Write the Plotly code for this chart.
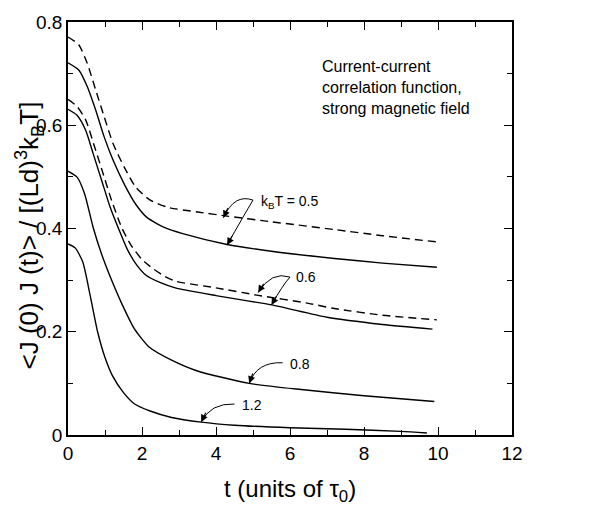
import math
import plotly.graph_objects as go

# ---- data ----
t_d05 = [0, 0.29, 0.52, 0.75, 0.98, 1.22, 1.52, 1.83, 2.2, 2.7, 3.5, 4.3, 5.5, 7.2, 8.5, 9.97]
c_d05 = [0.771, 0.756, 0.72, 0.668, 0.616, 0.564, 0.519, 0.48, 0.456, 0.441, 0.432, 0.424, 0.413, 0.398, 0.386, 0.374]

t_s05 = [0, 0.29, 0.52, 0.75, 0.98, 1.22, 1.52, 1.83, 2.14, 2.6, 3.1, 4.3, 5.5, 7.2, 8.5, 9.97]
c_s05 = [0.721, 0.707, 0.675, 0.629, 0.577, 0.532, 0.486, 0.447, 0.421, 0.402, 0.39, 0.369, 0.356, 0.342, 0.333, 0.325]

t_d06 = [0, 0.25, 0.48, 0.72, 0.95, 1.18, 1.45, 1.7, 2.0, 2.3, 2.6, 2.9, 4.0, 5.1, 6.5, 7.2, 8.5, 9.97]
c_d06 = [0.65, 0.636, 0.61, 0.558, 0.506, 0.454, 0.402, 0.368, 0.34, 0.322, 0.308, 0.298, 0.285, 0.271, 0.255, 0.245, 0.232, 0.223]

t_s06 = [0, 0.25, 0.48, 0.68, 0.91, 1.14, 1.37, 1.6, 1.85, 2.1, 2.5, 2.9, 4.0, 5.5, 7.0, 8.5, 9.85]
c_s06 = [0.631, 0.619, 0.59, 0.545, 0.493, 0.441, 0.399, 0.36, 0.33, 0.31, 0.295, 0.285, 0.27, 0.252, 0.228, 0.214, 0.205]

t_s08 = [0, 0.25, 0.45, 0.68, 0.9, 1.15, 1.45, 1.8, 2.2, 2.8, 3.5, 4.9, 6.3, 8.0, 9.9]
c_s08 = [0.511, 0.499, 0.467, 0.402, 0.352, 0.305, 0.255, 0.205, 0.17, 0.145, 0.124, 0.1, 0.088, 0.076, 0.065]

t_s12 = [0, 0.2, 0.4, 0.6, 0.8, 1.0, 1.2, 1.5, 1.8, 2.2, 2.8, 3.6, 4.5, 6.0, 7.5, 9.0, 9.7]
c_s12 = [0.37, 0.362, 0.335, 0.27, 0.2, 0.15, 0.115, 0.082, 0.06, 0.047, 0.034, 0.025, 0.019, 0.014, 0.011, 0.007, 0.004]

x_ticks = [0, 2, 4, 6, 8, 10, 12]
y_ticks = [0, 0.2, 0.4, 0.6, 0.8]
y_ticktext = ["0", "0.2", "0.4", "0.6", "0.8"]

# labels: text, x, y
label_text = ["k<sub>B</sub>T = 0.5", "0.6", "0.8", "1.2"]
label_x = [5.15, 6.1, 5.95, 4.65]
label_y = [0.452, 0.306, 0.138, 0.058]

# curved arrows: start, control, end
arr_x0 = [5.0, 5.0, 6.0, 6.0, 5.8, 4.5]
arr_y0 = [0.455, 0.455, 0.306, 0.306, 0.14, 0.06]
arr_cx = [4.5, 4.75, 5.5, 5.8, 5.1, 3.85]
arr_cy = [0.468, 0.425, 0.318, 0.29, 0.142, 0.062]
arr_x1 = [4.2, 4.3, 5.14, 5.5, 4.9, 3.6]
arr_y1 = [0.421, 0.368, 0.276, 0.252, 0.1, 0.025]

note_text = "Current-current<br>correlation function,<br>strong magnetic field"

# ---- layout geometry ----
W, H = 614, 508
ML, MR, MT, MB = 68, 102, 22, 73
XR = [0, 12]
YR = [0, 0.8]
px_per_x = (W - ML - MR) / (XR[1] - XR[0])
px_per_y = (H - MT - MB) / (YR[1] - YR[0])

# ---- figure ----
fig = go.Figure()
series = [
    (t_d05, c_d05, "dash"),
    (t_s05, c_s05, "solid"),
    (t_d06, c_d06, "dash"),
    (t_s06, c_s06, "solid"),
    (t_s08, c_s08, "solid"),
    (t_s12, c_s12, "solid"),
]
for tx, cy, ds in series:
    fig.add_trace(go.Scatter(
        x=tx, y=cy, mode="lines",
        line=dict(color="black", width=1.4, shape="spline", smoothing=0.6,
                  dash="8px,5px" if ds == "dash" else "solid"),
        showlegend=False, hoverinfo="skip"))

shapes = []
annotations = []
for i in range(len(arr_x0)):
    path = f"M {arr_x0[i]},{arr_y0[i]} Q {arr_cx[i]},{arr_cy[i]} {arr_x1[i]},{arr_y1[i]}"
    shapes.append(dict(type="path", path=path, xref="x", yref="y",
                       line=dict(color="black", width=1)))
    # arrowhead along the tangent at the end (pixel offsets)
    dx = (arr_cx[i] - arr_x1[i]) * px_per_x
    dy = -(arr_cy[i] - arr_y1[i]) * px_per_y
    n = math.hypot(dx, dy)
    L = 12
    annotations.append(dict(x=arr_x1[i], y=arr_y1[i], ax=dx / n * L, ay=dy / n * L,
                            xref="x", yref="y",
                            text="", showarrow=True, arrowhead=2,
                            arrowsize=1.3, arrowwidth=1.1, arrowcolor="black"))

for txt, lx, ly in zip(label_text, label_x, label_y):
    annotations.append(dict(x=lx, y=ly, xref="x", yref="y", text=txt,
                            showarrow=False, xanchor="left", yanchor="middle",
                            font=dict(size=14, color="black")))

annotations.append(dict(x=6.8, y=0.735, xref="x", yref="y", text=note_text,
                        showarrow=False, xanchor="left", yanchor="top", align="left",
                        font=dict(size=16, color="black")))

annotations.append(dict(x=0, y=0.483, xref="paper", yref="paper", xshift=-39,
                        text="&lt;J (0) J (t)&gt; / [(Ld)<sup>3</sup>k<sub>B</sub>T]",
                        textangle=-90, showarrow=False, xanchor="center", yanchor="middle",
                        font=dict(size=26, color="black")))
annotations.append(dict(x=0.5, y=0, xref="paper", yref="paper", yshift=-55,
                        text="t (units of τ<sub>0</sub>)",
                        showarrow=False, xanchor="center", yanchor="middle",
                        font=dict(size=24, color="black")))

fig.update_layout(
    width=W, height=H,
    margin=dict(l=ML, r=MR, t=MT, b=MB),
    paper_bgcolor="white", plot_bgcolor="white",
    font=dict(family="Liberation Sans, Arial, sans-serif", color="black"),
    shapes=shapes, annotations=annotations,
    xaxis=dict(range=XR, tickvals=x_ticks, ticks="inside", ticklen=8,
               tickwidth=1, tickcolor="black", showline=True, linecolor="black",
               linewidth=1.5, mirror="ticks", showgrid=False, zeroline=False,
               tickfont=dict(size=19),
               minor=dict(dtick=1, ticks="inside", ticklen=5, tickcolor="black", showgrid=False)),
    yaxis=dict(range=YR, tickvals=y_ticks, ticktext=y_ticktext,
               ticks="inside", ticklen=8,
               tickwidth=1, tickcolor="black", showline=True, linecolor="black",
               linewidth=1.5, mirror="ticks", showgrid=False, zeroline=False,
               tickfont=dict(size=19),
               minor=dict(dtick=0.1, ticks="inside", ticklen=5, tickcolor="black", showgrid=False)),
)

fig.write_html("out.html")
